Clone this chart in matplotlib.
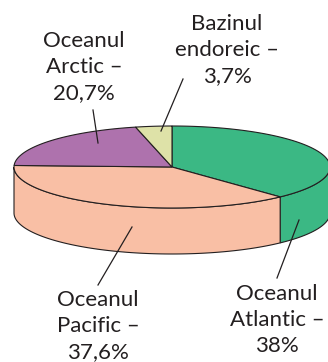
import numpy as np
import matplotlib
matplotlib.use("Agg")
from matplotlib import pyplot as plt
from matplotlib.patches import Polygon

# data
names = ["Oceanul\nAtlantic –\n38%", "Oceanul\nPacific –\n37,6%",
         "Oceanul\nArctic –\n20,7%", "Bazinul\nendoreic –\n3,7%"]
values = [38, 37.6, 20.7, 3.7]
colors = ["#3bb884", "#f9bfa5", "#ae72ad", "#dee2a8"]

# label positions (pixels) and leader lines
label_xy = [(277, 320), (98, 326), (84, 67), (227, 50)]
leaders = [((299, 220), (277, 278)), ((132, 227), (98, 285)),
           ((98, 143), (93, 110)), ((161, 131), (183, 79))]

W, H = 328, 362
cx, cy, rx, ry, depth = 172, 167, 158, 41, 46

fig = plt.figure(figsize=(W / 100, H / 100), dpi=100)
ax = fig.add_axes([0, 0, 1, 1])
ax.set_xlim(0, W)
ax.set_ylim(H, 0)
ax.axis("off")


def pt(t, dy=0):
    return cx + rx * np.cos(t), cy - ry * np.sin(t) + dy


# wedge angles: start at top, go clockwise
total = sum(values)
edges = [np.pi / 2]
for v in values:
    edges.append(edges[-1] - 2 * np.pi * v / total)

# side walls (front half only: angles between -pi and 0)
for i, c in enumerate(colors):
    a0, a1 = edges[i + 1], edges[i]
    lo, hi = max(a0, -np.pi), min(a1, 0)
    if lo >= hi:
        continue
    t = np.linspace(lo, hi, 100)
    xt, yt = pt(t)
    xb, yb = pt(t[::-1], depth)
    poly = np.column_stack([np.concatenate([xt, xb]), np.concatenate([yt, yb])])
    ax.add_patch(Polygon(poly, closed=True, facecolor=c, edgecolor="#231f20", lw=0.8, zorder=1))

# top faces
for i, c in enumerate(colors):
    t = np.linspace(edges[i], edges[i + 1], 150)
    xt, yt = pt(t)
    poly = np.column_stack([np.concatenate([[cx], xt]), np.concatenate([[cy], yt])])
    ax.add_patch(Polygon(poly, closed=True, facecolor=c, edgecolor="#231f20", lw=0.8, zorder=2))

for (p0, p1) in leaders:
    ax.plot([p0[0], p1[0]], [p0[1], p1[1]], color="#231f20", lw=0.9, zorder=3)

for name, (x, y) in zip(names, label_xy):
    ax.text(x, y, name, ha="center", va="center", fontsize=16, family=["Lato", "DejaVu Sans"],
            color="#231f20", linespacing=1.38, zorder=4)

fig.savefig("out.png", dpi=100)
